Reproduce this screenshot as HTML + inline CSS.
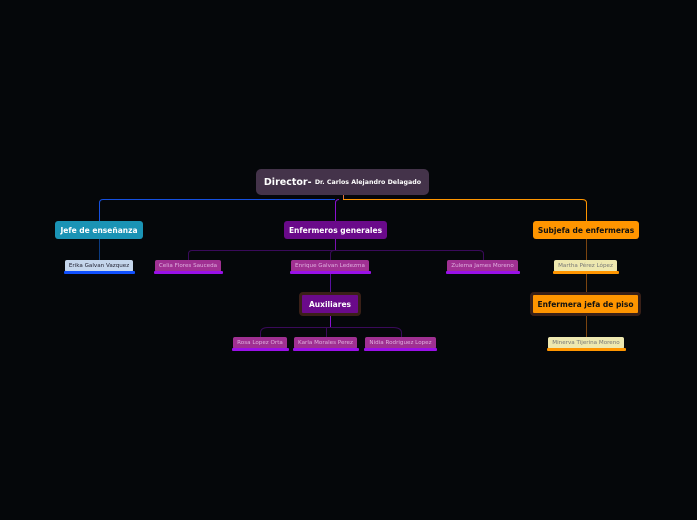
<!DOCTYPE html>
<html><head><meta charset="utf-8"><style>
html,body{margin:0;padding:0;background:#05070a;width:697px;height:520px;overflow:hidden;font-family:"DejaVu Sans","Liberation Sans",sans-serif}
.n{position:absolute;box-sizing:border-box;display:flex;align-items:center;justify-content:center;white-space:nowrap;font-weight:bold}
.t{border-radius:3px;font-size:7.5px}
.s{border-radius:2px;font-size:5.6px;font-weight:normal}
.u{position:absolute;height:3px;border-radius:1px}
.b{border-radius:4px;border:3px solid #3a2018;font-size:7.5px}
</style></head><body>
<svg width="697" height="520" style="position:absolute;left:0;top:0" fill="none">
<path d="M343.5 195 V199" stroke="#e07040" stroke-width="1"/>
<path d="M335 199.5 H103 Q99.5 199.5 99.5 203 V260" stroke="#1550e0" stroke-width="1"/>
<path d="M99.5 239 V260" stroke="#0a3a80" stroke-width="1"/>
<path d="M343 199.5 H582 Q586.5 199.5 586.5 203 V221" stroke="#ff9500" stroke-width="1"/>
<path d="M586.5 239 V292 M586.5 316 V337" stroke="#7a4410" stroke-width="1"/>
<path d="M339 199.5 Q335.5 199.5 335.5 203 V221" stroke="#8a10d0" stroke-width="1"/>
<path d="M335.5 239 V250" stroke="#7a10b0" stroke-width="1"/>
<path d="M188.5 260 V254 Q188.5 250.5 192 250.5 H479 Q483.5 250.5 483.5 254 V260" stroke="#3a0a5a" stroke-width="1"/>
<path d="M330.5 260 V254 Q330.5 250.5 334 250.5" stroke="#3a0a5a" stroke-width="1"/>
<path d="M330.5 272 V292" stroke="#5a10a0" stroke-width="1"/>
<path d="M330.5 316 V327" stroke="#8a10d0" stroke-width="1"/>
<path d="M260.5 337 V333 Q260.5 327.5 268 327.5 H393 Q401.5 327.5 401.5 333 V337 M326.5 327 V337" stroke="#3a0a5a" stroke-width="1"/>
</svg>
<div class="n t" style="left:256px;top:169px;width:173px;height:26px;background:#44334a;color:#fff;border-radius:5px;font-size:9.5px">Director-&nbsp;<span style="font-size:6.3px">Dr. Carlos Alejandro Delagado</span></div>
<div class="n t" style="left:55px;top:221px;width:88px;height:18px;background:#1a93b5;color:#fff">Jefe de enseñanza</div>
<div class="n t" style="left:284px;top:221px;width:103px;height:18px;background:#6a0a8a;color:#fff">Enfermeros generales</div>
<div class="n t" style="left:533px;top:221px;width:106px;height:18px;background:#ff9500;color:#111">Subjefa de enfermeras</div>

<div class="n s" style="left:65px;top:260px;width:68px;height:12px;background:#c5d6ec;color:#223">Erika Galvan Vazquez</div>
<div class="u" style="left:64px;top:271px;width:71px;background:#1050ff"></div>
<div class="n s" style="left:155px;top:260px;width:66px;height:12px;background:#a03092;color:#e0b0e0">Celia Flores Sauceda</div>
<div class="u" style="left:154px;top:271px;width:69px;background:#9a10e8"></div>
<div class="n s" style="left:291px;top:260px;width:78px;height:12px;background:#a03092;color:#e0b0e0">Enrique Galvan Ledezma</div>
<div class="u" style="left:290px;top:271px;width:81px;background:#9a10e8"></div>
<div class="n s" style="left:447px;top:260px;width:71px;height:12px;background:#a03092;color:#e0b0e0">Zulema James Moreno</div>
<div class="u" style="left:446px;top:271px;width:74px;background:#9a10e8"></div>
<div class="n s" style="left:554px;top:260px;width:63px;height:12px;background:#eee8b0;color:#777">Martha Pérez López</div>
<div class="u" style="left:553px;top:271px;width:66px;background:#ff9500"></div>

<div class="n b" style="left:299px;top:292px;width:62px;height:24px;background:#6a0a8a;color:#fff">Auxiliares</div>
<div class="n b" style="left:530px;top:292px;width:111px;height:24px;background:#ff9500;color:#111">Enfermera jefa de piso</div>

<div class="n s" style="left:233px;top:337px;width:54px;height:12px;background:#a03092;color:#e0b0e0">Rosa Lopez Orta</div>
<div class="u" style="left:232px;top:348px;width:57px;background:#9a10e8"></div>
<div class="n s" style="left:294px;top:337px;width:63px;height:12px;background:#a03092;color:#e0b0e0">Karla Morales Perez</div>
<div class="u" style="left:293px;top:348px;width:66px;background:#9a10e8"></div>
<div class="n s" style="left:365px;top:337px;width:71px;height:12px;background:#a03092;color:#e0b0e0">Nidia Rodriguez Lopez</div>
<div class="u" style="left:364px;top:348px;width:73px;background:#9a10e8"></div>
<div class="n s" style="left:548px;top:337px;width:76px;height:12px;background:#eee8b0;color:#777">Minerva Tijerina Moreno</div>
<div class="u" style="left:547px;top:348px;width:79px;background:#ff9500"></div>
</body></html>
